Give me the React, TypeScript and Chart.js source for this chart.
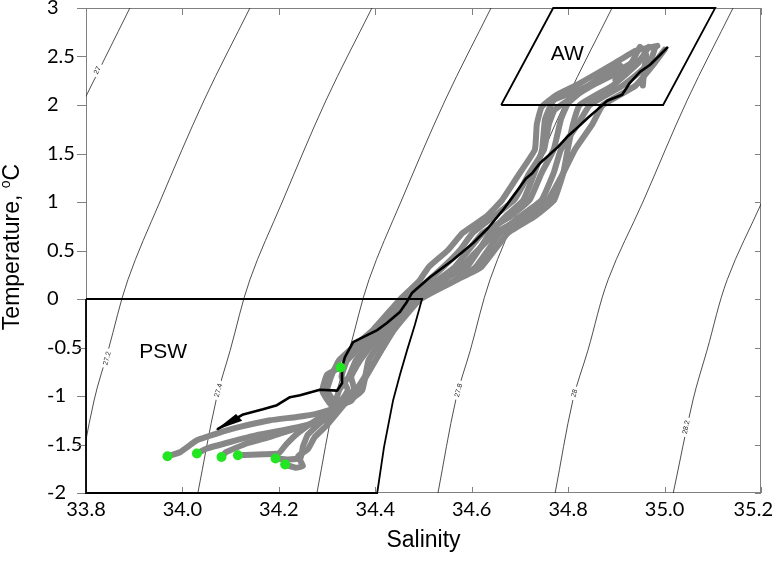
import React, { useEffect, useRef } from 'react';
import { Chart, registerables } from 'chart.js';

Chart.register(...registerables);

// ---- axes ----
const xTicks = [33.8, 34.0, 34.2, 34.4, 34.6, 34.8, 35.0, 35.2];
const xTickLabels = ['33.8', '34.0', '34.2', '34.4', '34.6', '34.8', '35.0', '35.2'];
const yTicks = [-2, -1.5, -1, -0.5, 0, 0.5, 1, 1.5, 2, 2.5, 3];
const yTickLabels = ['-2', '-1.5', '-1', '-0.5', '0', '0.5', '1', '1.5', '2', '2.5', '3'];

// ---- isopycnals (S, T) ----
const iso27 = [[33.891, 3], [33.796, 2.05]];
const iso272 = [[34.14, 3], [34.045, 2.05], [33.953, 1.0], [33.887, 0.2], [33.846, -0.53], [33.817, -1.04], [33.779, -2]];
const iso274 = [[34.393, 3], [34.298, 2.05], [34.207, 1.0], [34.14, 0.2], [34.099, -0.53], [34.07, -1.04], [34.032, -2]];
const iso276 = [[34.64, 3], [34.545, 2.05], [34.453, 1.0], [34.387, 0.2], [34.346, -0.53], [34.316, -1.04], [34.279, -2]];
const iso278 = [[34.891, 3], [34.796, 2.05], [34.704, 1.0], [34.638, 0.2], [34.597, -0.53], [34.567, -1.04], [34.53, -2]];
const iso280 = [[35.142, 3], [35.047, 2.05], [34.955, 1.0], [34.883, 0.2], [34.841, -0.53], [34.81, -1.04], [34.773, -2]];
const iso282 = [[35.391, 3], [35.296, 2.05], [35.202, 1.0], [35.13, 0.2], [35.088, -0.53], [35.059, -1.04], [35.018, -2]];
const isoLines = [iso27, iso272, iso274, iso276, iso278, iso280, iso282];
const isoLabels = ['27', '27.2', '27.4', '', '27.8', '28', '28.2'];
const isoLabelAt = [[33.823, 2.36], [33.843, -0.61], [34.074, -0.94], null, [34.572, -0.94], [34.812, -0.97], [35.044, -1.32]];

// ---- water-mass boxes ----
const awBox = [[34.661, 2], [34.769, 3], [35.105, 3], [34.997, 2], [34.661, 2]];
const pswBox = [[33.8, 0], [34.497, 0], [34.482, -0.267], [34.466, -0.527], [34.451, -0.784], [34.437, -1.043], [34.418, -1.529], [34.404, -2], [33.8, -2], [33.8, 0]];
const awLabel = [34.798, 2.52];
const pswLabel = [33.96, -0.545];

// ---- profiles (S, T) ----
const prof1 = [[33.969, -1.621], [33.995, -1.58], [34.03, -1.456], [34.071, -1.387], [34.119, -1.319], [34.182, -1.25], [34.237, -1.216], [34.279, -1.181], [34.32, -1.112], [34.3, -0.94], [34.31, -0.78], [34.325, -0.63], [34.36, -0.47], [34.395, -0.32], [34.452, 0], [34.49, 0.18], [34.511, 0.33], [34.55, 0.5], [34.581, 0.68], [34.63, 0.85], [34.663, 1.02], [34.7, 1.3], [34.731, 1.54], [34.735, 1.8], [34.745, 1.98], [34.775, 2.1], [34.823, 2.22], [34.896, 2.43], [34.94, 2.56], [34.985, 2.61]];
const prof2 = [[34.03, -1.593], [34.05, -1.542], [34.099, -1.474], [34.154, -1.404], [34.209, -1.353], [34.258, -1.301], [34.306, -1.229], [34.325, -0.94], [34.345, -0.8], [34.36, -0.63], [34.411, -0.32], [34.462, 0], [34.5, 0.15], [34.541, 0.33], [34.575, 0.5], [34.602, 0.68], [34.688, 1.02], [34.72, 1.3], [34.75, 1.54], [34.76, 1.8], [34.772, 1.95], [34.81, 2.08], [34.857, 2.22], [34.94, 2.43], [34.962, 2.52], [34.958, 2.38], [34.955, 2.2]];
const prof3 = [[34.081, -1.628], [34.09, -1.58], [34.133, -1.49], [34.182, -1.422], [34.22, -1.36], [34.27, -1.28], [34.31, -1.18], [34.343, -0.94], [34.33, -0.8], [34.342, -0.63], [34.406, -0.32], [34.472, 0], [34.53, 0.2], [34.565, 0.33], [34.623, 0.68], [34.68, 0.85], [34.72, 1.02], [34.745, 1.3], [34.77, 1.54], [34.785, 1.85], [34.8, 2.02], [34.837, 2.18], [34.905, 2.42], [34.912, 2.38], [34.898, 2.26]];
const prof4 = [[34.115, -1.611], [34.17, -1.6], [34.2, -1.59], [34.215, -1.5], [34.24, -1.38], [34.28, -1.24], [34.33, -1.1], [34.373, -0.94], [34.386, -0.63], [34.428, -0.32], [34.487, 0], [34.56, 0.18], [34.608, 0.33], [34.659, 0.68], [34.7, 0.85], [34.745, 1.02], [34.77, 1.3], [34.785, 1.54], [34.82, 1.8], [34.845, 2.0], [34.913, 2.2], [34.969, 2.43], [34.981, 2.6]];
const prof5 = [[34.193, -1.645], [34.22, -1.655], [34.245, -1.64], [34.25, -1.52], [34.26, -1.4], [34.285, -1.28], [34.31, -1.15], [34.356, -0.94], [34.35, -0.8], [34.369, -0.63], [34.417, -0.32], [34.477, 0], [34.54, 0.2], [34.59, 0.33], [34.638, 0.68], [34.67, 0.85], [34.707, 1.02], [34.73, 1.3], [34.746, 1.54], [34.752, 1.85], [34.77, 2.05], [34.82, 2.15], [34.871, 2.27], [34.93, 2.43], [34.949, 2.6]];
const prof6 = [[34.213, -1.707], [34.235, -1.74], [34.25, -1.72], [34.24, -1.62], [34.26, -1.55], [34.275, -1.42], [34.3, -1.3], [34.33, -1.12], [34.36, -0.94], [34.4, -0.63], [34.439, -0.32], [34.494, 0], [34.57, 0.2], [34.62, 0.33], [34.675, 0.68], [34.73, 0.85], [34.771, 1.02], [34.79, 1.3], [34.799, 1.54], [34.81, 1.8], [34.824, 2.0], [34.892, 2.2], [34.945, 2.43], [34.967, 2.6]];
const prof7 = [[34.328, -0.706], [34.3, -0.78], [34.29, -0.95], [34.31, -1.1], [34.35, -1.05], [34.375, -0.85], [34.41, -0.55], [34.437, -0.32], [34.482, 0], [34.53, 0.15], [34.578, 0.33], [34.649, 0.68], [34.71, 0.85], [34.758, 1.02], [34.79, 1.3], [34.814, 1.54], [34.85, 1.8], [34.872, 2.0], [34.94, 2.2], [34.979, 2.43], [35.0, 2.57]];
const grayProfiles = [prof1, prof2, prof3, prof4, prof5, prof6, prof7];

const blackProfile = [[35.007, 2.6], [34.991, 2.518], [34.97, 2.415], [34.949, 2.342], [34.928, 2.229], [34.912, 2.105], [34.881, 2.043], [34.86, 1.95], [34.841, 1.868], [34.821, 1.775], [34.798, 1.672], [34.779, 1.568], [34.742, 1.403], [34.726, 1.3], [34.712, 1.24], [34.7, 1.155], [34.683, 1.04], [34.665, 0.918], [34.634, 0.732], [34.603, 0.577], [34.561, 0.402], [34.514, 0.226], [34.476, 0.061], [34.464, -0.042], [34.451, -0.135], [34.424, -0.248], [34.404, -0.321], [34.354, -0.445], [34.337, -0.599], [34.331, -0.703], [34.331, -0.868], [34.321, -0.945], [34.285, -0.935], [34.244, -0.992], [34.223, -1.012], [34.196, -1.095], [34.167, -1.137], [34.126, -1.19], [34.072, -1.343]];

const startDots = [[33.969, -1.621], [34.03, -1.593], [34.081, -1.628], [34.115, -1.611], [34.193, -1.645], [34.213, -1.707], [34.328, -0.706]];

const toXY = (arr: number[][]) => arr.map(([x, y]) => ({ x, y }));

const overlay = {
  id: 'overlay',
  beforeDatasetsDraw(chart: any) {
    const { ctx, chartArea: a, scales } = chart;
    const xs = scales.x, ys = scales.y;
    ctx.save();
    ctx.strokeStyle = '#808080';
    ctx.lineWidth = 1;
    ctx.strokeRect(a.left + 0.5, a.top + 0.5, a.right - a.left - 1, a.bottom - a.top - 1);
    ctx.beginPath();
    xTicks.forEach((v) => {
      const px = Math.round(xs.getPixelForValue(v)) + 0.5;
      ctx.moveTo(px, a.bottom); ctx.lineTo(px, a.bottom - 6);
      ctx.moveTo(px, a.top); ctx.lineTo(px, a.top + 7);
    });
    yTicks.forEach((v) => {
      const py = Math.round(ys.getPixelForValue(v)) + 0.5;
      ctx.moveTo(a.right, py); ctx.lineTo(a.right - 6, py);
      ctx.moveTo(a.left - 9, py); ctx.lineTo(a.left, py);
    });
    ctx.stroke();
    // x tick labels
    ctx.fillStyle = '#000';
    ctx.font = '20px Lato';
    ctx.textAlign = 'center';
    ctx.textBaseline = 'middle';
    xTicks.forEach((v, i) => {
      const w = ctx.measureText(xTickLabels[i]).width;
      let px = xs.getPixelForValue(v);
      px = Math.min(px, chart.width - 1 - w / 2);
      ctx.fillText(xTickLabels[i], px, a.bottom + 17);
    });
    ctx.restore();
  },
  afterDatasetsDraw(chart: any) {
    const { ctx, chartArea: a, scales } = chart;
    const xs = scales.x, ys = scales.y;
    const P = (p: number[]) => ({ x: xs.getPixelForValue(p[0]), y: ys.getPixelForValue(p[1]) });
    ctx.save();
    // contour labels
    ctx.font = '7px "Liberation Sans"';
    ctx.textAlign = 'center';
    ctx.textBaseline = 'middle';
    isoLines.forEach((line, i) => {
      const at = isoLabelAt[i];
      if (!at || !isoLabels[i]) return;
      let p1 = line[line.length - 2], p2 = line[line.length - 1];
      for (let k = 0; k < line.length - 1; k++) {
        const hi = line[k], lo = line[k + 1];
        if (at[1] <= hi[1] && at[1] >= lo[1]) { p1 = lo; p2 = hi; break; }
      }
      const a1 = P(p1), a2 = P(p2);
      const ang = Math.atan2(a2.y - a1.y, a2.x - a1.x);
      const c = P(at);
      const w = ctx.measureText(isoLabels[i]).width;
      ctx.save();
      ctx.translate(c.x, c.y);
      ctx.rotate(ang);
      ctx.fillStyle = '#fff';
      ctx.fillRect(-w / 2 - 3, -3.5, w + 6, 7);
      ctx.fillStyle = '#222';
      ctx.fillText(isoLabels[i], 0, 0.5);
      ctx.restore();
    });
    // arrowhead on the black profile
    const n = blackProfile.length;
    const tip = P(blackProfile[n - 1]);
    const prev = P(blackProfile[n - 2]);
    const ang = Math.atan2(tip.y - prev.y, tip.x - prev.x);
    ctx.save();
    ctx.translate(tip.x, tip.y);
    ctx.rotate(ang);
    ctx.fillStyle = '#000';
    ctx.beginPath();
    ctx.moveTo(2, 0);
    ctx.lineTo(-26, -5);
    ctx.lineTo(-24, 4);
    ctx.closePath();
    ctx.fill();
    ctx.restore();
    // box labels
    ctx.fillStyle = '#000';
    ctx.font = '21px "Liberation Sans"';
    ctx.textAlign = 'center';
    ctx.textBaseline = 'middle';
    const aw = P(awLabel);
    ctx.fillText('AW', aw.x, aw.y);
    const ps = P(pswLabel);
    ctx.fillText('PSW', ps.x, ps.y);
    // axis titles
    ctx.font = '23px "Liberation Sans"';
    ctx.fillText('Salinity', (a.left + a.right) / 2, 541);
    ctx.translate(13, 247);
    ctx.rotate(-Math.PI / 2);
    const t1 = 'Temperature, ';
    ctx.font = '23px "Liberation Sans"';
    const w1 = ctx.measureText(t1).width;
    const wC = ctx.measureText('C').width;
    ctx.font = '14px "Liberation Sans"';
    const wo = ctx.measureText('o').width;
    const total = w1 + wo + wC;
    ctx.textAlign = 'left';
    let xpos = -total / 2;
    ctx.font = '23px "Liberation Sans"';
    ctx.fillText(t1, xpos, 0);
    xpos += w1;
    ctx.font = '14px "Liberation Sans"';
    ctx.fillText('o', xpos, -7);
    xpos += wo;
    ctx.font = '23px "Liberation Sans"';
    ctx.fillText('C', xpos, 0);
    ctx.restore();
  },
};

export default function App() {
  const ref = useRef<HTMLCanvasElement | null>(null);
  useEffect(() => {
    if (!ref.current) return;
    const datasets: any[] = [];
    isoLines.forEach((line, i) => {
      datasets.push({
        label: 'iso' + i,
        data: toXY(line),
        showLine: true,
        borderColor: '#222',
        borderWidth: 0.8,
        pointRadius: 0,
        tension: 0.35,
        order: 10,
      });
    });
    grayProfiles.forEach((p, i) => {
      datasets.push({
        label: 'profile' + (i + 1),
        data: toXY(p),
        showLine: true,
        borderColor: '#878787',
        borderWidth: 6,
        borderCapStyle: 'round',
        borderJoinStyle: 'round',
        pointRadius: 0,
        tension: 0.12,
        order: 6,
      });
    });
    datasets.push({
      label: 'AW', data: toXY(awBox), showLine: true, borderColor: '#000', borderWidth: 1.8,
      pointRadius: 0, tension: 0, order: 4, clip: false,
    });
    datasets.push({
      label: 'PSW', data: toXY(pswBox), showLine: true, borderColor: '#000', borderWidth: 1.8,
      pointRadius: 0, tension: 0, order: 4, clip: false,
    });
    datasets.push({
      label: 'black', data: toXY(blackProfile), showLine: true, borderColor: '#000', borderWidth: 2.6,
      borderJoinStyle: 'round', pointRadius: 0, tension: 0, order: 2,
    });
    datasets.push({
      label: 'start', data: toXY(startDots), showLine: false, pointRadius: 5,
      backgroundColor: '#22e622', borderWidth: 0, order: 1,
    });

    const chart = new Chart(ref.current, {
      type: 'scatter',
      data: { datasets },
      options: {
        animation: false,
        responsive: false,
        devicePixelRatio: 1,
        layout: { padding: { left: 47, top: 8, right: 13, bottom: 0 }, autoPadding: false },
        plugins: { legend: { display: false }, tooltip: { enabled: false } },
        scales: {
          x: {
            type: 'linear',
            min: 33.8,
            max: 35.2,
            afterBuildTicks: (s: any) => { s.ticks = xTicks.map((value) => ({ value })); },
            afterFit: (s: any) => { s.height = 69; s.paddingLeft = 0; s.paddingRight = 0; },
            ticks: { display: false },
            grid: { display: false, drawTicks: false },
            border: { display: false },
          },
          y: {
            type: 'linear',
            min: -2,
            max: 3,
            afterBuildTicks: (s: any) => { s.ticks = yTicks.map((value) => ({ value })); },
            afterFit: (s: any) => { s.width = 39; s.paddingTop = 0; s.paddingBottom = 0; },
            ticks: {
              callback: (_v: any, i: number) => yTickLabels[i],
              font: { family: 'Lato', size: 20 },
              color: '#000',
              crossAlign: 'far',
              padding: 0,
              autoSkip: false,
            },
            grid: { display: false, drawTicks: false },
            border: { display: false },
          },
        },
      },
      plugins: [overlay],
    } as any);
    return () => chart.destroy();
  }, []);
  return (
    <div style={{ position: 'absolute', left: 0, top: 0, width: 774, height: 562, background: '#fff' }}>
      <canvas ref={ref} width={774} height={562} style={{ display: 'block', width: 774, height: 562 }} />
    </div>
  );
}
